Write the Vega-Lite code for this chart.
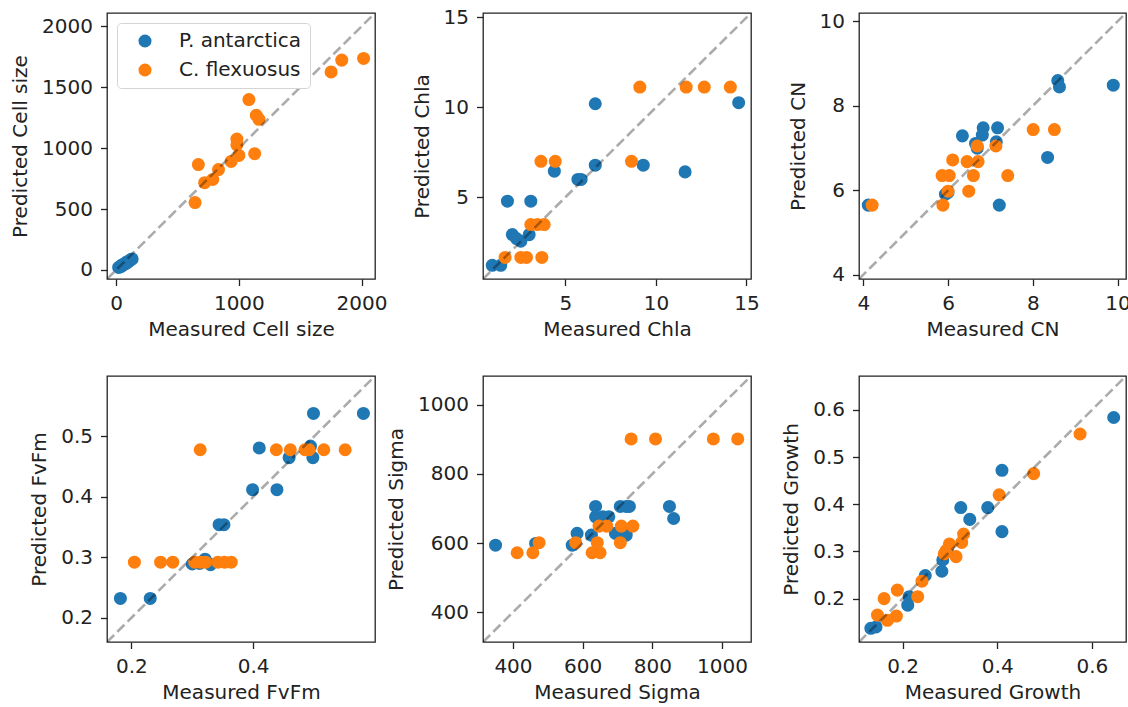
{
"$schema":"https://vega.github.io/schema/vega-lite/v6.json",
"background":"white",
"padding":{"left":9,"top":6,"right":0,"bottom":5},
"columns":3,
"spacing":{"row":97,"column":108},
"bounds":"flush",
"resolve":{"scale":{"x":"independent","y":"independent","color":"independent"},"legend":{"color":"independent"}},
"datasets":{
"diag":[
{"panel":"Cell size","lo":-75,"hi":2110},
{"panel":"Chla","lo":0.45,"hi":15.25},
{"panel":"CN","lo":3.9,"hi":10.2},
{"panel":"FvFm","lo":0.16,"hi":0.6},
{"panel":"Sigma","lo":314,"hi":1083},
{"panel":"Growth","lo":0.108,"hi":0.672}
],
"pts":[
{"panel":"Cell size","species":"P. antarctica","measured":20,"predicted":20},
{"panel":"Cell size","species":"P. antarctica","measured":40,"predicted":35},
{"panel":"Cell size","species":"P. antarctica","measured":60,"predicted":45},
{"panel":"Cell size","species":"P. antarctica","measured":80,"predicted":60},
{"panel":"Cell size","species":"P. antarctica","measured":100,"predicted":70},
{"panel":"Cell size","species":"P. antarctica","measured":120,"predicted":85},
{"panel":"Cell size","species":"P. antarctica","measured":30,"predicted":25},
{"panel":"Cell size","species":"P. antarctica","measured":50,"predicted":40},
{"panel":"Cell size","species":"P. antarctica","measured":70,"predicted":50},
{"panel":"Cell size","species":"P. antarctica","measured":90,"predicted":65},
{"panel":"Cell size","species":"P. antarctica","measured":110,"predicted":75},
{"panel":"Cell size","species":"P. antarctica","measured":130,"predicted":90},
{"panel":"Cell size","species":"P. antarctica","measured":45,"predicted":30},
{"panel":"Cell size","species":"P. antarctica","measured":85,"predicted":55},
{"panel":"Cell size","species":"C. flexuosus","measured":643,"predicted":553},
{"panel":"Cell size","species":"C. flexuosus","measured":670,"predicted":865},
{"panel":"Cell size","species":"C. flexuosus","measured":721,"predicted":716},
{"panel":"Cell size","species":"C. flexuosus","measured":787,"predicted":743},
{"panel":"Cell size","species":"C. flexuosus","measured":834,"predicted":824},
{"panel":"Cell size","species":"C. flexuosus","measured":937,"predicted":891},
{"panel":"Cell size","species":"C. flexuosus","measured":1000,"predicted":940},
{"panel":"Cell size","species":"C. flexuosus","measured":984,"predicted":1075},
{"panel":"Cell size","species":"C. flexuosus","measured":984,"predicted":1027},
{"panel":"Cell size","species":"C. flexuosus","measured":1129,"predicted":954},
{"panel":"Cell size","species":"C. flexuosus","measured":1082,"predicted":1399},
{"panel":"Cell size","species":"C. flexuosus","measured":1142,"predicted":1270},
{"panel":"Cell size","species":"C. flexuosus","measured":1164,"predicted":1237},
{"panel":"Cell size","species":"C. flexuosus","measured":1752,"predicted":1626},
{"panel":"Cell size","species":"C. flexuosus","measured":1839,"predicted":1723},
{"panel":"Cell size","species":"C. flexuosus","measured":2017,"predicted":1737},
{"panel":"Chla","species":"P. antarctica","measured":0.96,"predicted":1.21},
{"panel":"Chla","species":"P. antarctica","measured":1.43,"predicted":1.21},
{"panel":"Chla","species":"P. antarctica","measured":1.8,"predicted":4.78},
{"panel":"Chla","species":"P. antarctica","measured":2.07,"predicted":2.92},
{"panel":"Chla","species":"P. antarctica","measured":2.54,"predicted":2.55},
{"panel":"Chla","species":"P. antarctica","measured":2.3,"predicted":2.7},
{"panel":"Chla","species":"P. antarctica","measured":3.0,"predicted":2.92},
{"panel":"Chla","species":"P. antarctica","measured":3.09,"predicted":4.78},
{"panel":"Chla","species":"P. antarctica","measured":4.39,"predicted":6.45},
{"panel":"Chla","species":"P. antarctica","measured":5.69,"predicted":5.99},
{"panel":"Chla","species":"P. antarctica","measured":5.87,"predicted":5.99},
{"panel":"Chla","species":"P. antarctica","measured":6.65,"predicted":10.2},
{"panel":"Chla","species":"P. antarctica","measured":6.65,"predicted":6.78},
{"panel":"Chla","species":"P. antarctica","measured":9.3,"predicted":6.78},
{"panel":"Chla","species":"P. antarctica","measured":11.61,"predicted":6.41},
{"panel":"Chla","species":"P. antarctica","measured":14.57,"predicted":10.26},
{"panel":"Chla","species":"C. flexuosus","measured":1.67,"predicted":1.65},
{"panel":"Chla","species":"C. flexuosus","measured":2.54,"predicted":1.65},
{"panel":"Chla","species":"C. flexuosus","measured":2.85,"predicted":1.65},
{"panel":"Chla","species":"C. flexuosus","measured":3.7,"predicted":1.65},
{"panel":"Chla","species":"C. flexuosus","measured":3.65,"predicted":7.0},
{"panel":"Chla","species":"C. flexuosus","measured":4.44,"predicted":7.0},
{"panel":"Chla","species":"C. flexuosus","measured":3.09,"predicted":3.48},
{"panel":"Chla","species":"C. flexuosus","measured":3.46,"predicted":3.48},
{"panel":"Chla","species":"C. flexuosus","measured":3.83,"predicted":3.48},
{"panel":"Chla","species":"C. flexuosus","measured":8.65,"predicted":7.0},
{"panel":"Chla","species":"C. flexuosus","measured":9.11,"predicted":11.13},
{"panel":"Chla","species":"C. flexuosus","measured":11.67,"predicted":11.13},
{"panel":"Chla","species":"C. flexuosus","measured":12.67,"predicted":11.13},
{"panel":"Chla","species":"C. flexuosus","measured":14.11,"predicted":11.13},
{"panel":"CN","species":"P. antarctica","measured":4.12,"predicted":5.65},
{"panel":"CN","species":"P. antarctica","measured":5.94,"predicted":5.91},
{"panel":"CN","species":"P. antarctica","measured":6.0,"predicted":5.95},
{"panel":"CN","species":"P. antarctica","measured":6.34,"predicted":7.29},
{"panel":"CN","species":"P. antarctica","measured":6.65,"predicted":7.11},
{"panel":"CN","species":"P. antarctica","measured":6.83,"predicted":7.48},
{"panel":"CN","species":"P. antarctica","measured":6.81,"predicted":7.31},
{"panel":"CN","species":"P. antarctica","measured":6.69,"predicted":7.0},
{"panel":"CN","species":"P. antarctica","measured":7.17,"predicted":7.48},
{"panel":"CN","species":"P. antarctica","measured":7.14,"predicted":7.15},
{"panel":"CN","species":"P. antarctica","measured":7.21,"predicted":5.65},
{"panel":"CN","species":"P. antarctica","measured":8.35,"predicted":6.78},
{"panel":"CN","species":"P. antarctica","measured":8.59,"predicted":8.6},
{"panel":"CN","species":"P. antarctica","measured":8.63,"predicted":8.45},
{"panel":"CN","species":"P. antarctica","measured":9.9,"predicted":8.49},
{"panel":"CN","species":"C. flexuosus","measured":4.21,"predicted":5.65},
{"panel":"CN","species":"C. flexuosus","measured":5.88,"predicted":5.65},
{"panel":"CN","species":"C. flexuosus","measured":6.0,"predicted":5.98},
{"panel":"CN","species":"C. flexuosus","measured":5.86,"predicted":6.35},
{"panel":"CN","species":"C. flexuosus","measured":6.03,"predicted":6.35},
{"panel":"CN","species":"C. flexuosus","measured":6.11,"predicted":6.72},
{"panel":"CN","species":"C. flexuosus","measured":6.49,"predicted":5.98},
{"panel":"CN","species":"C. flexuosus","measured":6.45,"predicted":6.68},
{"panel":"CN","species":"C. flexuosus","measured":6.6,"predicted":6.35},
{"panel":"CN","species":"C. flexuosus","measured":6.71,"predicted":6.68},
{"panel":"CN","species":"C. flexuosus","measured":6.69,"predicted":7.05},
{"panel":"CN","species":"C. flexuosus","measured":7.13,"predicted":7.05},
{"panel":"CN","species":"C. flexuosus","measured":7.41,"predicted":6.35},
{"panel":"CN","species":"C. flexuosus","measured":8.01,"predicted":7.44},
{"panel":"CN","species":"C. flexuosus","measured":8.51,"predicted":7.44},
{"panel":"FvFm","species":"P. antarctica","measured":0.182,"predicted":0.232},
{"panel":"FvFm","species":"P. antarctica","measured":0.231,"predicted":0.232},
{"panel":"FvFm","species":"P. antarctica","measured":0.3,"predicted":0.289},
{"panel":"FvFm","species":"P. antarctica","measured":0.312,"predicted":0.29},
{"panel":"FvFm","species":"P. antarctica","measured":0.321,"predicted":0.297},
{"panel":"FvFm","species":"P. antarctica","measured":0.33,"predicted":0.288},
{"panel":"FvFm","species":"P. antarctica","measured":0.344,"predicted":0.354},
{"panel":"FvFm","species":"P. antarctica","measured":0.352,"predicted":0.354},
{"panel":"FvFm","species":"P. antarctica","measured":0.399,"predicted":0.412},
{"panel":"FvFm","species":"P. antarctica","measured":0.439,"predicted":0.412},
{"panel":"FvFm","species":"P. antarctica","measured":0.41,"predicted":0.481},
{"panel":"FvFm","species":"P. antarctica","measured":0.459,"predicted":0.465},
{"panel":"FvFm","species":"P. antarctica","measured":0.498,"predicted":0.465},
{"panel":"FvFm","species":"P. antarctica","measured":0.494,"predicted":0.484},
{"panel":"FvFm","species":"P. antarctica","measured":0.499,"predicted":0.538},
{"panel":"FvFm","species":"P. antarctica","measured":0.581,"predicted":0.538},
{"panel":"FvFm","species":"C. flexuosus","measured":0.205,"predicted":0.292},
{"panel":"FvFm","species":"C. flexuosus","measured":0.248,"predicted":0.292},
{"panel":"FvFm","species":"C. flexuosus","measured":0.268,"predicted":0.292},
{"panel":"FvFm","species":"C. flexuosus","measured":0.304,"predicted":0.292},
{"panel":"FvFm","species":"C. flexuosus","measured":0.313,"predicted":0.292},
{"panel":"FvFm","species":"C. flexuosus","measured":0.322,"predicted":0.292},
{"panel":"FvFm","species":"C. flexuosus","measured":0.342,"predicted":0.292},
{"panel":"FvFm","species":"C. flexuosus","measured":0.353,"predicted":0.292},
{"panel":"FvFm","species":"C. flexuosus","measured":0.364,"predicted":0.292},
{"panel":"FvFm","species":"C. flexuosus","measured":0.313,"predicted":0.478},
{"panel":"FvFm","species":"C. flexuosus","measured":0.438,"predicted":0.478},
{"panel":"FvFm","species":"C. flexuosus","measured":0.461,"predicted":0.478},
{"panel":"FvFm","species":"C. flexuosus","measured":0.485,"predicted":0.478},
{"panel":"FvFm","species":"C. flexuosus","measured":0.492,"predicted":0.478},
{"panel":"FvFm","species":"C. flexuosus","measured":0.516,"predicted":0.478},
{"panel":"FvFm","species":"C. flexuosus","measured":0.551,"predicted":0.478},
{"panel":"Sigma","species":"P. antarctica","measured":350,"predicted":594},
{"panel":"Sigma","species":"P. antarctica","measured":465,"predicted":599},
{"panel":"Sigma","species":"P. antarctica","measured":570,"predicted":594},
{"panel":"Sigma","species":"P. antarctica","measured":584,"predicted":628},
{"panel":"Sigma","species":"P. antarctica","measured":625,"predicted":623},
{"panel":"Sigma","species":"P. antarctica","measured":637,"predicted":706},
{"panel":"Sigma","species":"P. antarctica","measured":637,"predicted":676},
{"panel":"Sigma","species":"P. antarctica","measured":658,"predicted":676},
{"panel":"Sigma","species":"P. antarctica","measured":675,"predicted":676},
{"panel":"Sigma","species":"P. antarctica","measured":694,"predicted":628},
{"panel":"Sigma","species":"P. antarctica","measured":725,"predicted":623},
{"panel":"Sigma","species":"P. antarctica","measured":708,"predicted":706},
{"panel":"Sigma","species":"P. antarctica","measured":725,"predicted":706},
{"panel":"Sigma","species":"P. antarctica","measured":734,"predicted":706},
{"panel":"Sigma","species":"P. antarctica","measured":849,"predicted":706},
{"panel":"Sigma","species":"P. antarctica","measured":861,"predicted":671},
{"panel":"Sigma","species":"C. flexuosus","measured":412,"predicted":572},
{"panel":"Sigma","species":"C. flexuosus","measured":457,"predicted":572},
{"panel":"Sigma","species":"C. flexuosus","measured":475,"predicted":601},
{"panel":"Sigma","species":"C. flexuosus","measured":580,"predicted":601},
{"panel":"Sigma","species":"C. flexuosus","measured":627,"predicted":572},
{"panel":"Sigma","species":"C. flexuosus","measured":650,"predicted":572},
{"panel":"Sigma","species":"C. flexuosus","measured":642,"predicted":601},
{"panel":"Sigma","species":"C. flexuosus","measured":647,"predicted":649},
{"panel":"Sigma","species":"C. flexuosus","measured":669,"predicted":649},
{"panel":"Sigma","species":"C. flexuosus","measured":708,"predicted":601},
{"panel":"Sigma","species":"C. flexuosus","measured":711,"predicted":649},
{"panel":"Sigma","species":"C. flexuosus","measured":744,"predicted":649},
{"panel":"Sigma","species":"C. flexuosus","measured":739,"predicted":901},
{"panel":"Sigma","species":"C. flexuosus","measured":809,"predicted":901},
{"panel":"Sigma","species":"C. flexuosus","measured":975,"predicted":901},
{"panel":"Sigma","species":"C. flexuosus","measured":1045,"predicted":901},
{"panel":"Growth","species":"P. antarctica","measured":0.133,"predicted":0.137},
{"panel":"Growth","species":"P. antarctica","measured":0.144,"predicted":0.14},
{"panel":"Growth","species":"P. antarctica","measured":0.211,"predicted":0.186},
{"panel":"Growth","species":"P. antarctica","measured":0.214,"predicted":0.204},
{"panel":"Growth","species":"P. antarctica","measured":0.248,"predicted":0.249},
{"panel":"Growth","species":"P. antarctica","measured":0.283,"predicted":0.258},
{"panel":"Growth","species":"P. antarctica","measured":0.285,"predicted":0.282},
{"panel":"Growth","species":"P. antarctica","measured":0.295,"predicted":0.3},
{"panel":"Growth","species":"P. antarctica","measured":0.323,"predicted":0.393},
{"panel":"Growth","species":"P. antarctica","measured":0.342,"predicted":0.368},
{"panel":"Growth","species":"P. antarctica","measured":0.38,"predicted":0.393},
{"panel":"Growth","species":"P. antarctica","measured":0.41,"predicted":0.472},
{"panel":"Growth","species":"P. antarctica","measured":0.41,"predicted":0.342},
{"panel":"Growth","species":"P. antarctica","measured":0.646,"predicted":0.584},
{"panel":"Growth","species":"C. flexuosus","measured":0.147,"predicted":0.165},
{"panel":"Growth","species":"C. flexuosus","measured":0.161,"predicted":0.2},
{"panel":"Growth","species":"C. flexuosus","measured":0.168,"predicted":0.154},
{"panel":"Growth","species":"C. flexuosus","measured":0.187,"predicted":0.163},
{"panel":"Growth","species":"C. flexuosus","measured":0.189,"predicted":0.218},
{"panel":"Growth","species":"C. flexuosus","measured":0.232,"predicted":0.204},
{"panel":"Growth","species":"C. flexuosus","measured":0.241,"predicted":0.237},
{"panel":"Growth","species":"C. flexuosus","measured":0.288,"predicted":0.295},
{"panel":"Growth","species":"C. flexuosus","measured":0.299,"predicted":0.316},
{"panel":"Growth","species":"C. flexuosus","measured":0.292,"predicted":0.302},
{"panel":"Growth","species":"C. flexuosus","measured":0.313,"predicted":0.289},
{"panel":"Growth","species":"C. flexuosus","measured":0.325,"predicted":0.319},
{"panel":"Growth","species":"C. flexuosus","measured":0.329,"predicted":0.337},
{"panel":"Growth","species":"C. flexuosus","measured":0.404,"predicted":0.42},
{"panel":"Growth","species":"C. flexuosus","measured":0.477,"predicted":0.465},
{"panel":"Growth","species":"C. flexuosus","measured":0.575,"predicted":0.549}
]
},
"concat":[
{"width":268,"height":266,"layer":[
 {"data":{"name":"pts"},"transform":[{"filter":"datum.panel === 'Cell size'"}],
  "mark":{"type":"point","filled":true,"size":170,"opacity":1,"strokeWidth":0},
  "encoding":{
   "x":{"field":"measured","type":"quantitative","scale":{"domain":[-75,2110],"nice":false,"zero":false},"axis":{"title":"Measured Cell size","values":[0,1000,2000],"format":"d"}},
   "y":{"field":"predicted","type":"quantitative","scale":{"domain":[-75,2110],"nice":false,"zero":false},"axis":{"title":"Predicted Cell size","values":[0,500,1000,1500,2000],"format":"d"}},
   "color":{"field":"species","type":"nominal","scale":{"domain":["P. antarctica","C. flexuosus"],"range":["#1f77b4","#ff7f0e"]},
    "legend":{"title":null,"orient":"top-left","offset":10,"padding":8,"symbolOffset":10,"labelOffset":24,"rowPadding":9,"strokeColor":"#d5d5d5","fillColor":"white","cornerRadius":4,"labelFontSize":20,"labelColor":"#222","symbolSize":170,"symbolType":"circle","symbolStrokeWidth":0,"symbolOpacity":1}}
  }},
 {"data":{"name":"diag"},"transform":[{"filter":"datum.panel === 'Cell size'"}],
  "mark":{"type":"rule","color":"#000","opacity":0.33,"strokeWidth":2.6,"strokeDash":[10,4.5],"clip":true},
  "encoding":{"x":{"field":"lo","type":"quantitative","title":"Measured Cell size"},"y":{"field":"lo","type":"quantitative","title":"Predicted Cell size"},"x2":{"field":"hi"},"y2":{"field":"hi"}}}
]},
{"width":268,"height":266,"layer":[
 {"data":{"name":"pts"},"transform":[{"filter":"datum.panel === 'Chla'"}],
  "mark":{"type":"point","filled":true,"size":170,"opacity":1,"strokeWidth":0},
  "encoding":{
   "x":{"field":"measured","type":"quantitative","scale":{"domain":[0.45,15.25],"nice":false,"zero":false},"axis":{"title":"Measured Chla","values":[5,10,15],"format":"d"}},
   "y":{"field":"predicted","type":"quantitative","scale":{"domain":[0.45,15.25],"nice":false,"zero":false},"axis":{"title":"Predicted Chla","values":[5,10,15],"format":"d"}},
   "color":{"field":"species","type":"nominal","scale":{"domain":["P. antarctica","C. flexuosus"],"range":["#1f77b4","#ff7f0e"]},"legend":null}
  }},
 {"data":{"name":"diag"},"transform":[{"filter":"datum.panel === 'Chla'"}],
  "mark":{"type":"rule","color":"#000","opacity":0.33,"strokeWidth":2.6,"strokeDash":[10,4.5],"clip":true},
  "encoding":{"x":{"field":"lo","type":"quantitative","title":"Measured Chla"},"y":{"field":"lo","type":"quantitative","title":"Predicted Chla"},"x2":{"field":"hi"},"y2":{"field":"hi"}}}
]},
{"width":267,"height":266,"layer":[
 {"data":{"name":"pts"},"transform":[{"filter":"datum.panel === 'CN'"}],
  "mark":{"type":"point","filled":true,"size":170,"opacity":1,"strokeWidth":0},
  "encoding":{
   "x":{"field":"measured","type":"quantitative","scale":{"domain":[3.9,10.2],"nice":false,"zero":false},"axis":{"title":"Measured CN","values":[4,6,8,10],"format":"d"}},
   "y":{"field":"predicted","type":"quantitative","scale":{"domain":[3.9,10.2],"nice":false,"zero":false},"axis":{"title":"Predicted CN","values":[4,6,8,10],"format":"d"}},
   "color":{"field":"species","type":"nominal","scale":{"domain":["P. antarctica","C. flexuosus"],"range":["#1f77b4","#ff7f0e"]},"legend":null}
  }},
 {"data":{"name":"diag"},"transform":[{"filter":"datum.panel === 'CN'"}],
  "mark":{"type":"rule","color":"#000","opacity":0.33,"strokeWidth":2.6,"strokeDash":[10,4.5],"clip":true},
  "encoding":{"x":{"field":"lo","type":"quantitative","title":"Measured CN"},"y":{"field":"lo","type":"quantitative","title":"Predicted CN"},"x2":{"field":"hi"},"y2":{"field":"hi"}}}
]},
{"width":268,"height":266,"layer":[
 {"data":{"name":"pts"},"transform":[{"filter":"datum.panel === 'FvFm'"}],
  "mark":{"type":"point","filled":true,"size":170,"opacity":1,"strokeWidth":0},
  "encoding":{
   "x":{"field":"measured","type":"quantitative","scale":{"domain":[0.16,0.6],"nice":false,"zero":false},"axis":{"title":"Measured FvFm","values":[0.2,0.4],"format":".1f"}},
   "y":{"field":"predicted","type":"quantitative","scale":{"domain":[0.16,0.6],"nice":false,"zero":false},"axis":{"title":"Predicted FvFm","values":[0.2,0.3,0.4,0.5],"format":".1f"}},
   "color":{"field":"species","type":"nominal","scale":{"domain":["P. antarctica","C. flexuosus"],"range":["#1f77b4","#ff7f0e"]},"legend":null}
  }},
 {"data":{"name":"diag"},"transform":[{"filter":"datum.panel === 'FvFm'"}],
  "mark":{"type":"rule","color":"#000","opacity":0.33,"strokeWidth":2.6,"strokeDash":[10,4.5],"clip":true},
  "encoding":{"x":{"field":"lo","type":"quantitative","title":"Measured FvFm"},"y":{"field":"lo","type":"quantitative","title":"Predicted FvFm"},"x2":{"field":"hi"},"y2":{"field":"hi"}}}
]},
{"width":268,"height":266,"layer":[
 {"data":{"name":"pts"},"transform":[{"filter":"datum.panel === 'Sigma'"}],
  "mark":{"type":"point","filled":true,"size":170,"opacity":1,"strokeWidth":0},
  "encoding":{
   "x":{"field":"measured","type":"quantitative","scale":{"domain":[314,1083],"nice":false,"zero":false},"axis":{"title":"Measured Sigma","values":[400,600,800,1000],"format":"d"}},
   "y":{"field":"predicted","type":"quantitative","scale":{"domain":[314,1083],"nice":false,"zero":false},"axis":{"title":"Predicted Sigma","values":[400,600,800,1000],"format":"d"}},
   "color":{"field":"species","type":"nominal","scale":{"domain":["P. antarctica","C. flexuosus"],"range":["#1f77b4","#ff7f0e"]},"legend":null}
  }},
 {"data":{"name":"diag"},"transform":[{"filter":"datum.panel === 'Sigma'"}],
  "mark":{"type":"rule","color":"#000","opacity":0.33,"strokeWidth":2.6,"strokeDash":[10,4.5],"clip":true},
  "encoding":{"x":{"field":"lo","type":"quantitative","title":"Measured Sigma"},"y":{"field":"lo","type":"quantitative","title":"Predicted Sigma"},"x2":{"field":"hi"},"y2":{"field":"hi"}}}
]},
{"width":267,"height":266,"layer":[
 {"data":{"name":"pts"},"transform":[{"filter":"datum.panel === 'Growth'"}],
  "mark":{"type":"point","filled":true,"size":170,"opacity":1,"strokeWidth":0},
  "encoding":{
   "x":{"field":"measured","type":"quantitative","scale":{"domain":[0.108,0.672],"nice":false,"zero":false},"axis":{"title":"Measured Growth","values":[0.2,0.4,0.6],"format":".1f"}},
   "y":{"field":"predicted","type":"quantitative","scale":{"domain":[0.108,0.672],"nice":false,"zero":false},"axis":{"title":"Predicted Growth","values":[0.2,0.3,0.4,0.5,0.6],"format":".1f"}},
   "color":{"field":"species","type":"nominal","scale":{"domain":["P. antarctica","C. flexuosus"],"range":["#1f77b4","#ff7f0e"]},"legend":null}
  }},
 {"data":{"name":"diag"},"transform":[{"filter":"datum.panel === 'Growth'"}],
  "mark":{"type":"rule","color":"#000","opacity":0.33,"strokeWidth":2.6,"strokeDash":[10,4.5],"clip":true},
  "encoding":{"x":{"field":"lo","type":"quantitative","title":"Measured Growth"},"y":{"field":"lo","type":"quantitative","title":"Predicted Growth"},"x2":{"field":"hi"},"y2":{"field":"hi"}}}
]}
],
"config":{
 "font":"DejaVu Sans",
 "view":{"stroke":"#222","strokeWidth":1.3},
 "axis":{"grid":false,"domain":false,"tickColor":"#222","tickWidth":1.3,"tickSize":6.5,"labelFontSize":20,"labelColor":"#222","labelFont":"DejaVu Sans","titleFont":"DejaVu Sans","titleFontSize":20,"titleFontWeight":"normal","titleColor":"#222","labelPadding":8,"labelFlush":false,"labelOverlap":false},
 "axisX":{"titlePadding":6},
 "axisY":{"titlePadding":11},
 "legend":{"labelFont":"DejaVu Sans"}
}
}
